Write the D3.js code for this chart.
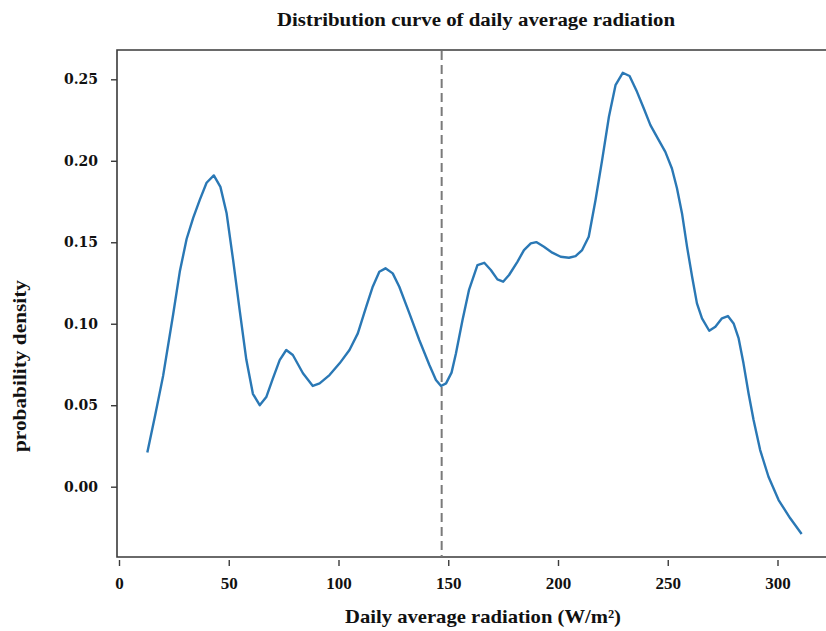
<!DOCTYPE html>
<html>
<head>
<meta charset="utf-8">
<script src="https://cdn.jsdelivr.net/npm/d3@7"></script>
<style>
  html, body { margin: 0; padding: 0; background: #fff; }
  svg { display: block; }
</style>
</head>
<body>
<svg id="chart" width="826" height="631"></svg>
<script>
// Kernel density estimate of daily average radiation, sampled along the x range
const radiation = [
  12.9, 16.5, 20.1, 24.7, 27.7, 30.8, 33.8, 36.8, 39.9, 43.2, 46.2, 49.0, 52.0, 55.0,
  58.0, 61.0, 64.1, 67.1, 70.0, 73.2, 76.2, 79.2, 83.8, 88.3, 91.4, 95.9, 100.5, 105.0,
  108.8, 112.6, 115.6, 118.6, 121.4, 124.7, 127.7, 132.3, 136.8, 141.4, 144.4, 146.7,
  149.0, 151.5, 153.5, 156.5, 159.5, 163.3, 166.4, 169.4, 172.4, 175.0, 177.7, 181.5,
  184.5, 187.6, 190.1, 193.6, 197.4, 201.2, 205.0, 208.0, 211.0, 214.0, 217.1, 220.1,
  223.2, 226.2, 229.5, 232.6, 236.0, 239.1, 242.1, 245.9, 248.9, 251.9, 254.2, 256.5,
  258.8, 261.1, 263.3, 265.6, 268.9, 271.7, 274.7, 277.4, 280.0, 282.3, 284.5, 286.8,
  289.1, 292.1, 295.9, 300.5, 305.8, 311.0
];
const density = [
  0.021, 0.044, 0.068, 0.106, 0.132, 0.152, 0.165, 0.176, 0.1865, 0.191, 0.184, 0.168, 0.139, 0.108,
  0.078, 0.057, 0.050, 0.055, 0.066, 0.0777, 0.0839, 0.0808, 0.0696, 0.0618, 0.0634, 0.0685, 0.0757, 0.0839,
  0.0941, 0.1104, 0.1227, 0.1319, 0.134, 0.1309, 0.1227, 0.1064, 0.090, 0.0747, 0.0655, 0.0618,
  0.0634, 0.070, 0.0818, 0.1023, 0.121, 0.136, 0.1374, 0.133, 0.1272, 0.1258, 0.1299, 0.138,
  0.1452, 0.1493, 0.1501, 0.1472, 0.1436, 0.1411, 0.1405, 0.1415, 0.1452, 0.1534, 0.1759, 0.2004,
  0.227, 0.2464, 0.254, 0.252, 0.2423, 0.2321, 0.2219, 0.2127, 0.2055, 0.1953, 0.1831, 0.1677,
  0.1472, 0.1288, 0.1125, 0.1033, 0.0957, 0.0982, 0.1033, 0.1047, 0.1002, 0.091, 0.0757, 0.0573,
  0.0409, 0.0225, 0.0061, -0.0082, -0.0194, -0.029
];
const xTicks = [0, 50, 100, 150, 200, 250, 300];
const yTicks = [0.00, 0.05, 0.10, 0.15, 0.20, 0.25];
const splitValue = 147;   // local minimum marked by the dashed line

const titleText = "Distribution curve of daily average radiation";
const xLabelText = "Daily average radiation (W/m\u00b2)";
const yLabelText = "probability density";

const svg = d3.select("#chart");
const frame = { left: 117, top: 50, bottom: 557, right: 830 };

const x = d3.scaleLinear().domain([0, 300]).range([119, 777.5]);
const y = d3.scaleLinear().domain([0, 0.25]).range([486.7, 79.3]);

const serif = "'Liberation Serif', 'Times New Roman', serif";
const darkSerif = "'DejaVu Serif', serif";

// spines: left, top, bottom (right one sits past the canvas edge)
const spine = svg.append("g").attr("stroke", "#3a3a3a").attr("stroke-width", 1.6).attr("fill", "none");
spine.append("path").attr("d", `M${frame.right},${frame.top}H${frame.left}V${frame.bottom}H${frame.right}`);

// y axis
const yAxis = svg.append("g").attr("transform", `translate(${frame.left},0)`)
  .call(d3.axisLeft(y).tickValues(yTicks).tickFormat(d3.format(".2f")).tickSize(6).tickPadding(13));
yAxis.select(".domain").remove();
yAxis.selectAll(".tick line").attr("stroke", "#3a3a3a").attr("stroke-width", 1.4);
yAxis.selectAll(".tick text")
  .attr("fill", "#111")
  .style("font-family", darkSerif).style("font-weight", "bold").style("font-size", "14px");

// x axis, drawn just below the bottom spine
const xAxis = svg.append("g").attr("transform", `translate(0,${frame.bottom + 3})`)
  .call(d3.axisBottom(x).tickValues(xTicks).tickFormat(d3.format("d")).tickSize(6).tickPadding(11));
xAxis.select(".domain").remove();
xAxis.selectAll(".tick line").attr("stroke", "#3a3a3a").attr("stroke-width", 1.4);
xAxis.selectAll(".tick text")
  .attr("fill", "#111")
  .style("font-family", serif).style("font-weight", "bold").style("font-size", "17px");

// dashed reference line at the dip
svg.append("line")
  .attr("x1", x(splitValue)).attr("x2", x(splitValue))
  .attr("y1", frame.top + 1).attr("y2", frame.bottom)
  .attr("stroke", "#7a7a7a").attr("stroke-width", 2)
  .attr("stroke-dasharray", "9,5");

// density curve
const pts = radiation.map((r, i) => [r, density[i]]);
svg.append("path")
  .datum(pts)
  .attr("fill", "none")
  .attr("stroke", "#2a78b5")
  .attr("stroke-width", 2.4)
  .attr("stroke-linejoin", "round")
  .attr("d", d3.line().x(d => x(d[0])).y(d => y(d[1])));

// title
svg.append("text")
  .attr("x", 476).attr("y", 26)
  .attr("text-anchor", "middle")
  .attr("textLength", 398).attr("lengthAdjust", "spacingAndGlyphs")
  .style("font-family", serif).style("font-weight", "bold").style("font-size", "18px")
  .attr("fill", "#111")
  .text(titleText);

// x label
svg.append("text")
  .attr("x", 483).attr("y", 623)
  .attr("text-anchor", "middle")
  .attr("textLength", 276).attr("lengthAdjust", "spacingAndGlyphs")
  .style("font-family", serif).style("font-weight", "bold").style("font-size", "19px")
  .attr("fill", "#111")
  .text(xLabelText);

// y label
svg.append("text")
  .attr("transform", "translate(26,366) rotate(-90)")
  .attr("text-anchor", "middle")
  .attr("textLength", 172).attr("lengthAdjust", "spacingAndGlyphs")
  .style("font-family", serif).style("font-weight", "bold").style("font-size", "19px")
  .attr("fill", "#111")
  .text(yLabelText);
</script>
</body>
</html>
